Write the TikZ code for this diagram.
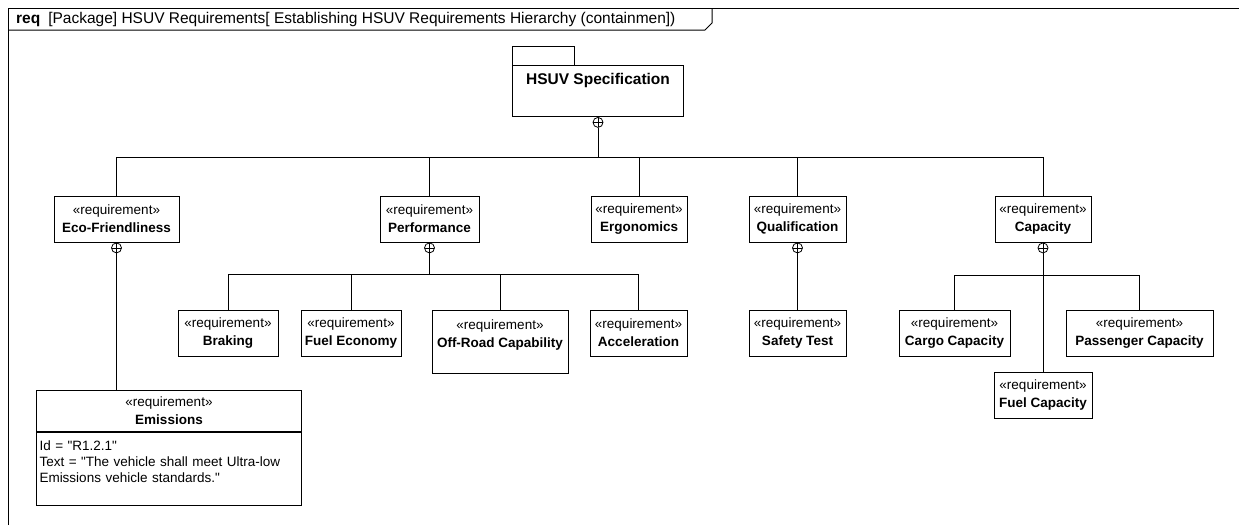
\documentclass[tikz,border=0pt]{standalone}
\usepackage{fontspec}
\setmainfont{Liberation Sans}
\usetikzlibrary{positioning}

\newcommand{\reqtext}[1]{«requirement»\\\textbf{#1}}

\begin{document}
\begin{tikzpicture}[x=1pt,y=-1pt,
  reqbox/.style={draw,line width=1pt,inner sep=0pt,align=center,minimum height=46pt,
                 font=\fontsize{13.5}{18}\selectfont},
  contain/.style={draw,circle,line width=0.8pt,minimum size=10pt,inner sep=0pt,anchor=north,
                  path picture={\draw[line width=0.8pt]
                    (path picture bounding box.north) -- (path picture bounding box.south)
                    (path picture bounding box.west) -- (path picture bounding box.east);}},
  link/.style={line width=1pt}]

  \useasboundingbox (0,0) rectangle (1239,525);

  % diagram frame and header
  \draw[link] (8,525) -- (8,8) -- (1239,8);
  \draw[link] (8,30) -- (705,30) -- (712,23) -- (712,8);
  \node[anchor=west,inner sep=0pt,font=\fontsize{15.5}{18}\selectfont] (title) at (16,19.5)
    {\textbf{req}\hspace{8pt}[Package] HSUV Requirements[ Establishing HSUV Requirements Hierarchy (containmen])};

  % package
  \draw[link] (512,46) rectangle (574,65);
  \node[reqbox,anchor=north west,minimum width=171pt,text height=18.5pt,text depth=32.5pt,
        font=\fontsize{15.5}{18}\selectfont\bfseries] (spec) at (512,65) {HSUV Specification};

  % first level
  \node[reqbox,minimum width=125pt] (eco)  at (116.5,219) {\reqtext{Eco-Friendliness}};
  \node[reqbox,minimum width=99pt]  (perf) at (429.5,219) {\reqtext{Performance}};
  \node[reqbox,minimum width=96pt]  (ergo) at (639,219)   {\reqtext{Ergonomics}};
  \node[reqbox,minimum width=97pt]  (qual) at (797.5,219) {\reqtext{Qualification}};
  \node[reqbox,minimum width=96pt]  (cap)  at (1043,219)  {\reqtext{Capacity}};

  \node[contain] (cspec) at (spec.south) {};
  \node[contain] (ceco)  at (eco.south)  {};
  \node[contain] (cperf) at (perf.south) {};
  \node[contain] (cqual) at (qual.south) {};
  \node[contain] (ccap)  at (cap.south)  {};

  % second level
  \node[reqbox,minimum width=100pt] (brak)    at (228,333)   {\reqtext{Braking}};
  \node[reqbox,minimum width=100pt] (fueleco) at (351,333)   {\reqtext{Fuel Economy}};
  \node[reqbox,anchor=north,minimum width=136pt,text height=36.5pt,text depth=26.5pt]
        (offroad) at (500,310) {\reqtext{Off-Road Capability}};
  \node[reqbox,minimum width=97pt]  (accel)   at (638.5,333) {\reqtext{Acceleration}};
  \node[reqbox,minimum width=97pt]  (safety)  at (797.5,333) {\reqtext{Safety Test}};
  \node[reqbox,minimum width=111pt] (cargo)   at (954.5,333) {\reqtext{Cargo Capacity}};
  \node[reqbox,minimum width=147pt] (pass)    at (1139.5,333){\reqtext{Passenger Capacity}};
  \node[reqbox,minimum width=98pt]  (fuelcap) at (1043,395)  {\reqtext{Fuel Capacity}};

  % emissions with its attribute compartment
  \node[reqbox,anchor=north west,minimum width=265pt,minimum height=41pt] (emis) at (36,390)
    {\reqtext{Emissions}};
  \node[reqbox,anchor=north west,align=left,text width=259pt,inner xsep=3pt,
        text height=17.5pt,text depth=55.5pt,font=\fontsize{13.5}{16}\selectfont]
    (emisattr) at (emis.south west)
    {Id = \textquotedbl R1.2.1\textquotedbl\\
     Text = \textquotedbl The vehicle shall meet Ultra-low\\
     Emissions vehicle standards.\textquotedbl};

  % containment links
  \coordinate (busTop)  at (0,157);
  \coordinate (busPerf) at (0,274);
  \coordinate (busCap)  at (0,275);
  \foreach \n in {eco,perf,ergo,qual,cap}
    \draw[link] (cspec.south) |- (\n.north |- busTop) -- (\n.north);
  \foreach \n in {brak,fueleco,offroad,accel}
    \draw[link] (cperf.south) |- (\n.north |- busPerf) -- (\n.north);
  \foreach \n in {cargo,pass}
    \draw[link] (ccap.south) |- (\n.north |- busCap) -- (\n.north);
  \draw[link] (ceco.south) -- (ceco.south |- emis.north);
  \draw[link] (cqual.south) -- (cqual.south |- safety.north);
  \draw[link] (ccap.south) -- (ccap.south |- fuelcap.north);
\end{tikzpicture}
\end{document}
